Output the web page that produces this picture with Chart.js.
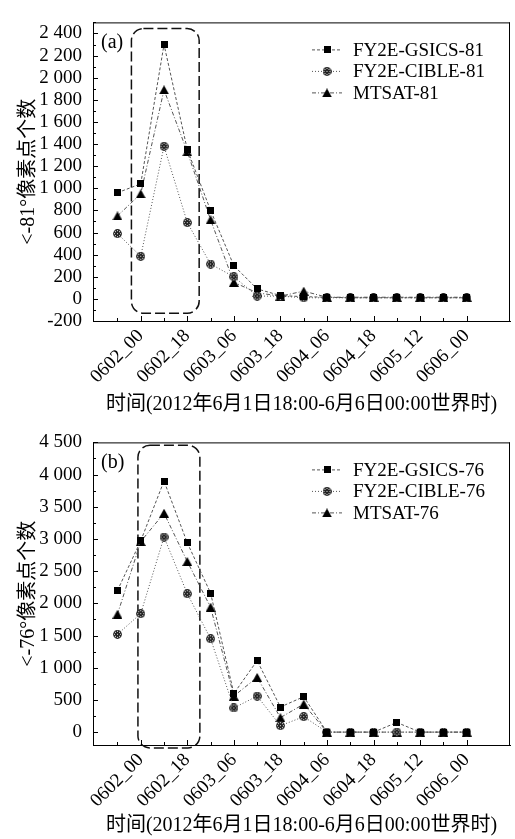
<!DOCTYPE html>
<html><head><meta charset="utf-8">
<script src="https://cdn.jsdelivr.net/npm/chart.js@4/dist/chart.umd.min.js"></script>
<style>
html,body{margin:0;padding:0;background:#fff;}
#wa{position:absolute;left:0;top:0;width:515px;height:420px;}
#wb{position:absolute;left:0;top:420px;width:515px;height:419px;}
</style>
</head><body>
<div id="wa"><canvas id="ca"></canvas></div>
<div id="wb"><canvas id="cb"></canvas></div>
<script>
// ---------- data ----------
const categories = ['0601_18','0602_00','0602_12','0602_18','0603_00','0603_06','0603_12','0603_18',
                    '0604_00','0604_06','0604_12','0604_18','0605_00','0605_12','0605_18','0606_00'];
const labeledIdx = [1,3,5,7,9,11,13,15];
const gsics81 = [960,1040,2300,1350,800,300,90,30,20,15,10,10,10,10,10,10];
const cible81 = [590,385,1380,690,315,200,25,25,10,10,10,10,10,10,10,10];
const mtsat81 = [750,950,1890,1330,715,150,55,25,70,15,15,15,15,15,15,15];
const gsics76 = [2200,2970,3900,2940,2160,600,1110,390,550,0,0,0,150,0,0,0];
const cible76 = [1520,1840,3030,2150,1450,375,560,100,240,0,0,0,0,0,0,0];
const mtsat76 = [1830,2960,3400,2650,1940,560,850,225,435,0,0,0,0,0,0,0];
const yTicksA = [-200,0,200,400,600,800,1000,1200,1400,1600,1800,2000,2200,2400];
const yTicksB = [0,500,1000,1500,2000,2500,3000,3500,4000,4500];
const namesA = ['FY2E-GSICS-81','FY2E-CIBLE-81','MTSAT-81'];
const namesB = ['FY2E-GSICS-76','FY2E-CIBLE-76','MTSAT-76'];

// ---------- markers ----------
function mk(w,h,draw){const c=document.createElement('canvas');c.width=w;c.height=h;draw(c.getContext('2d'));return c;}
const sqMark = mk(7,7,g=>{g.fillStyle='#000';g.fillRect(0,0,7,7);});
const triMark = mk(10,9,g=>{g.fillStyle='#000';g.beginPath();g.moveTo(5,0);g.lineTo(10,9);g.lineTo(0,9);g.closePath();g.fill();});
const cirMark = mk(9,9,g=>{
  g.fillStyle='#222';g.beginPath();g.arc(4.5,4.5,4.4,0,Math.PI*2);g.fill();
  g.fillStyle='#ddd';
  [[4,1],[1,4],[7,4],[4,7],[2,2],[6,2],[2,6],[6,6],[4,4]].forEach(p=>g.fillRect(p[0],p[1],1,1));
});
const styles = [
  {pt: sqMark, dash:[3,2]},
  {pt: cirMark, dash:[1,2]},
  {pt: triMark, dash:[4,2,1,2]}
];

const FONT = "'Liberation Serif','Noto Sans CJK SC',serif";
Chart.defaults.font.family = FONT;
Chart.defaults.color = '#000';

function fmt(v){
  const s = String(Math.abs(v)).replace(/\B(?=(\d{3})+(?!\d))/g,' ');
  return (v<0?'-':'')+s;
}

const decor = {
  id:'decor',
  beforeDatasetsDraw(chart,args,o){
    const {ctx,scales:{x,y}} = chart;
    const b = o.box;
    const x0=x.getPixelForValue(b.x0), x1=x.getPixelForValue(b.x1);
    const y0=y.getPixelForValue(b.y1), y1=y.getPixelForValue(b.y0);
    ctx.save();
    ctx.strokeStyle='#111';ctx.lineWidth=1.5;ctx.setLineDash([10,4]);
    ctx.beginPath();ctx.roundRect(x0,y0,x1-x0,y1-y0,12);ctx.stroke();
    ctx.restore();
  },
  afterDraw(chart,args,o){
    const {ctx,chartArea:a,scales:{x,y}} = chart;
    ctx.save();
    ctx.strokeStyle='#000';ctx.lineWidth=1;
    const ln=(x1,y1,x2,y2)=>{ctx.beginPath();ctx.moveTo(x1,y1);ctx.lineTo(x2,y2);ctx.stroke();};
    // frame
    ln(a.left,a.top+0.5,a.right,a.top+0.5);
    ln(a.right-0.5,a.top,a.right-0.5,a.bottom);
    // y ticks (inward)
    const yt=o.yTicks;
    for(let i=0;i<yt.length;i++){
      const py=Math.round(y.getPixelForValue(yt[i]))+0.5;
      ln(a.left,py,a.left+5,py);
      const step = i<yt.length-1 ? yt[i+1]-yt[i] : yt[i]-yt[i-1];
      const mid = yt[i]+step/2;
      if(mid<=y.max){const pm=Math.round(y.getPixelForValue(mid))+0.5;ln(a.left,pm,a.left+3,pm);}
    }
    // x ticks (inward)
    for(let i=0;i<categories.length;i++){
      const px=Math.round(x.getPixelForValue(i))+0.5;
      const len = labeledIdx.includes(i)?5:3;
      ln(px,a.bottom,px,a.bottom-len);
    }
    // panel letter
    ctx.fillStyle='#000';ctx.font="20px "+FONT;ctx.textBaseline='middle';ctx.textAlign='left';
    ctx.fillText(o.letter,a.left+8,a.top+20);
    // legend
    chart.data.datasets.forEach((ds,i)=>{
      const yy=a.top+27.5+i*21.5;
      ctx.save();ctx.strokeStyle='#555';ctx.setLineDash(ds.borderDash);
      ln(312,yy,342,yy);ctx.restore();
      const im=ds.pointStyle;
      ctx.drawImage(im,327-im.width/2,yy-im.height/2);
      ctx.fillStyle='#000';ctx.font="19px "+FONT;ctx.textBaseline='middle';
      ctx.fillText(ds.label,353,yy+1);
    });
    ctx.restore();
  }
};

function build(canvasId, series, names, yTicks, ymax, letter, box, yTitle, padTop, titlePadBottom, xAxisH){
  return new Chart(document.getElementById(canvasId),{
    type:'line',
    data:{datasets: series.map((s,i)=>({
      label:names[i],
      data:s.map((v,j)=>({x:j,y:v})),
      borderColor:'#555',borderWidth:1,borderDash:styles[i].dash,
      pointStyle:styles[i].pt,pointRadius:4,
      tension:0,fill:false
    }))},
    options:{
      responsive:true,maintainAspectRatio:false,animation:false,
      layout:{padding:{top:padTop,right:2,bottom:0,left:0}},
      plugins:{legend:{display:false},tooltip:{enabled:false},
        decor:{yTicks:yTicks,letter:letter,box:box}},
      scales:{
        x:{type:'linear',min:-1.05,max:16.86,
          grid:{display:false,drawTicks:false},
          border:{display:true,color:'#000',width:1},
          afterBuildTicks:s=>{s.ticks=labeledIdx.map(v=>({value:v}));},
          afterFit:s=>{s.height=xAxisH;},
          ticks:{autoSkip:false,minRotation:45,maxRotation:45,padding:4,
            font:{size:19},callback:v=>categories[v]},
          title:{display:true,text:'时间(2012年6月1日18:00-6月6日00:00世界时)',
            font:{size:20},padding:{top:0,bottom:titlePadBottom}}
        },
        y:{type:'linear',min:-200,max:ymax,
          grid:{display:false,drawTicks:false},
          border:{display:true,color:'#000',width:1},
          afterBuildTicks:s=>{s.ticks=yTicks.map(v=>({value:v}));},
          afterFit:s=>{s.width=93;},
          ticks:{autoSkip:false,padding:11,font:{size:19},callback:v=>fmt(v)},
          title:{display:true,text:yTitle,font:{size:20},padding:{top:17,bottom:0}}
        }
      }
    },
    plugins:[decor]
  });
}

build('ca',[gsics81,cible81,mtsat81],namesA,yTicksA,2500,'(a)',
      {x0:0.6,x1:3.51,y0:-130,y1:2444},'<-81°像素点个数',11,3,99);
build('cb',[gsics76,cible76,mtsat76],namesB,yTicksB,4500,'(b)',
      {x0:0.88,x1:3.54,y0:-245,y1:4455},'<-76°像素点个数',15,1,94);
</script>
</body></html>
